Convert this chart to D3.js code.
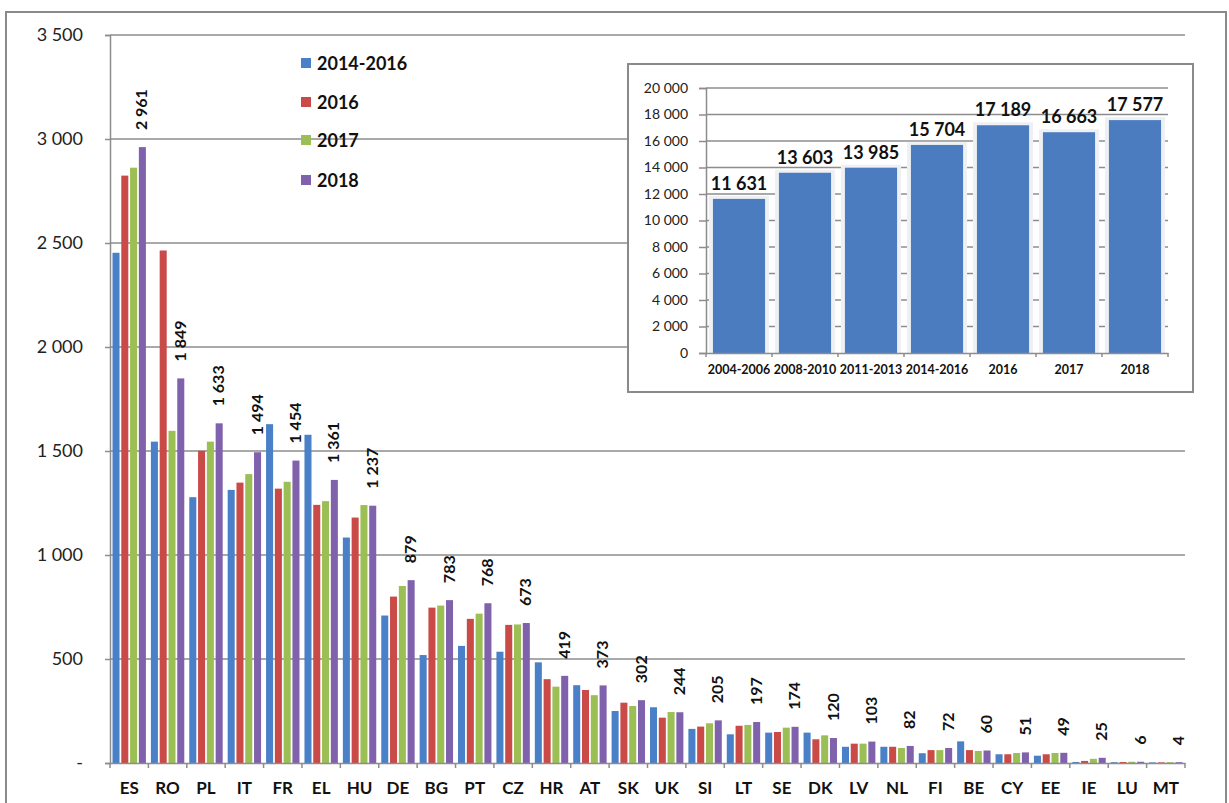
<!DOCTYPE html>
<html>
<head>
<meta charset="utf-8">
<script src="https://cdn.jsdelivr.net/npm/d3@7/dist/d3.min.js"></script>
<style>
  body { margin: 0; background: #fff; }
  svg { display: block; font-family: Lato, "Open Sans", sans-serif; }
</style>
</head>
<body>
<svg id="chart" width="1229" height="803"></svg>
<script>
const countries = ["ES","RO","PL","IT","FR","EL","HU","DE","BG","PT","CZ","HR","AT","SK","UK","SI","LT","SE","DK","LV","NL","FI","BE","CY","EE","IE","LU","MT"];
const seriesNames = ["2014-2016","2016","2017","2018"];
const v2014_2016 = [2453,1545,1278,1313,1629,1578,1084,709,519,563,535,484,374,250,268,164,138,146,146,78,78,47,104,42,35,5,4,3];
const v2016 = [2824,2464,1501,1348,1319,1241,1180,800,747,693,664,403,351,290,218,175,179,149,114,93,78,62,62,42,42,10,5,3];
const v2017 = [2862,1597,1545,1389,1352,1259,1240,851,757,718,666,367,326,274,245,191,183,170,133,93,72,62,58,48,48,20,6,4];
const v2018 = [2961,1849,1633,1494,1454,1361,1237,879,783,768,673,419,373,302,244,205,197,174,120,103,82,72,60,51,49,25,6,4];
const yTicks = [0,500,1000,1500,2000,2500,3000,3500];

const insetCats = ["2004-2006","2008-2010","2011-2013","2014-2016","2016","2017","2018"];
const insetVals = [11631,13603,13985,15704,17189,16663,17577];
const insetTicks = [0,2000,4000,6000,8000,10000,12000,14000,16000,18000,20000];

const colors = ["#4a80c8","#c94a46","#9bbf55","#8061ab"];
const gridColor = "#8c8c8c";

const fmt = d3.formatLocale({decimal: ",", thousands: " ", grouping: [3], currency: ["", ""]}).format(",d");

const svg = d3.select("#chart");

// outer frame
svg.append("rect")
  .attr("x", 6).attr("y", 12).attr("width", 1220).attr("height", 820)
  .attr("fill", "none").attr("stroke", "#8a8a8a").attr("stroke-width", 2);

// ---- main chart ----
const mLeft = 110, mRight = 1185, mTop = 35, mBottom = 763;

const x0 = d3.scaleBand().domain(countries).range([mLeft, mRight])
  .paddingInner(0.13).paddingOuter(0.065);
const x1 = d3.scaleBand().domain(seriesNames).range([0, x0.bandwidth()]).padding(0.2).paddingOuter(0);
const y = d3.scaleLinear().domain([0, 3500]).range([mBottom, mTop]);

// gridlines
svg.append("g")
  .selectAll("line")
  .data(yTicks.filter(d => d > 0))
  .enter().append("line")
  .attr("x1", mLeft).attr("x2", mRight)
  .attr("y1", d => y(d)).attr("y2", d => y(d))
  .attr("stroke", gridColor).attr("stroke-width", 1.5);

// y axis
const yAxis = svg.append("g")
  .attr("transform", `translate(${mLeft},0)`)
  .call(d3.axisLeft(y).tickValues(yTicks).tickSize(5).tickPadding(22)
    .tickFormat(d => d === 0 ? "-" : fmt(d)));
yAxis.select(".domain").attr("stroke", gridColor).attr("stroke-width", 1.5);
yAxis.selectAll(".tick line").attr("stroke", gridColor).attr("stroke-width", 1.5);
yAxis.selectAll("text").attr("font-size", 18).attr("fill", "#222")
  .attr("font-family", "Lato, sans-serif");

const allSeries = [v2014_2016, v2016, v2017, v2018];
const rows = countries.map((c, i) => ({
  country: c,
  values: seriesNames.map((s, k) => ({ key: s, k: k, value: allSeries[k][i] }))
}));

const groups = svg.append("g")
  .selectAll("g")
  .data(rows)
  .enter().append("g")
  .attr("transform", d => `translate(${x0(d.country)},0)`);

groups.selectAll("rect")
  .data(d => d.values)
  .enter().append("rect")
  .attr("x", d => x1(d.key))
  .attr("width", x1.bandwidth())
  .attr("y", d => y(d.value))
  .attr("height", d => y(0) - y(d.value))
  .attr("fill", d => colors[d.k]);

// x axis
const xAxis = svg.append("g")
  .attr("transform", `translate(0,${mBottom})`)
  .call(d3.axisBottom(x0).tickSize(0).tickPadding(19));
xAxis.select(".domain").attr("stroke", gridColor).attr("stroke-width", 1.5);
xAxis.selectAll("text").attr("font-size", 17).attr("font-weight", "bold")
  .attr("fill", "#111").attr("font-family", "Lato, sans-serif");
// tick marks between categories
const step = x0.step();
svg.append("g")
  .selectAll("line")
  .data(d3.range(countries.length + 1))
  .enter().append("line")
  .attr("x1", i => mLeft + i * step).attr("x2", i => mLeft + i * step)
  .attr("y1", mBottom).attr("y2", mBottom + 5)
  .attr("stroke", gridColor).attr("stroke-width", 1.5);

// value labels on 2018
svg.append("g")
  .selectAll("text")
  .data(rows)
  .enter().append("text")
  .attr("transform", d => {
    const cx = x0(d.country) + x1("2018") + x1.bandwidth() / 2 + 1;
    const cy = y(d.values[3].value) - 17;
    return `translate(${cx},${cy}) rotate(-90)`;
  })
  .attr("dominant-baseline", "middle")
  .attr("font-size", 16).attr("font-weight", "bold").attr("fill", "#111")
  .text(d => fmt(d.values[3].value));

// legend
const legend = svg.append("g")
  .selectAll("g")
  .data(seriesNames)
  .enter().append("g")
  .attr("transform", (d, i) => `translate(301,${[63, 102, 140, 180][i]})`);
legend.append("rect")
  .attr("x", 0).attr("y", -5).attr("width", 10).attr("height", 10)
  .attr("fill", (d, i) => colors[i]);
legend.append("text")
  .attr("x", 16).attr("y", 0).attr("dominant-baseline", "central")
  .attr("font-size", 18).attr("font-weight", "bold").attr("fill", "#111")
  .text(d => d);

// ---- inset chart ----
const ib = { x: 628, y: 64, w: 565, h: 328 };
svg.append("rect")
  .attr("x", ib.x).attr("y", ib.y).attr("width", ib.w).attr("height", ib.h)
  .attr("fill", "#fff").attr("stroke", "#8a8a8a").attr("stroke-width", 2);

const iLeft = 706, iRight = 1168, iTop = 88, iBottom = 353;
const ix = d3.scaleBand().domain(insetCats).range([iLeft, iRight]).paddingInner(0.21).paddingOuter(0.105);
const iy = d3.scaleLinear().domain([0, 20000]).range([iBottom, iTop]);

svg.append("g")
  .selectAll("line")
  .data(insetTicks.filter(d => d > 0))
  .enter().append("line")
  .attr("x1", iLeft).attr("x2", iRight)
  .attr("y1", d => iy(d)).attr("y2", d => iy(d))
  .attr("stroke", gridColor).attr("stroke-width", 1.5);

// soft halo behind bars
svg.append("g")
  .selectAll("rect")
  .data(insetVals)
  .enter().append("rect")
  .attr("x", (d, i) => ix(insetCats[i]) - 4)
  .attr("width", ix.bandwidth() + 8)
  .attr("y", d => iy(d) - 3)
  .attr("height", d => iBottom - iy(d) + 3)
  .attr("fill", "#eef0f4");

svg.append("g")
  .selectAll("rect")
  .data(insetVals)
  .enter().append("rect")
  .attr("x", (d, i) => ix(insetCats[i]))
  .attr("width", ix.bandwidth())
  .attr("y", d => iy(d))
  .attr("height", d => iBottom - iy(d))
  .attr("fill", "#4b7cc0");

const iyAxis = svg.append("g")
  .attr("transform", `translate(${iLeft},0)`)
  .call(d3.axisLeft(iy).tickValues(insetTicks).tickSize(7).tickPadding(11).tickFormat(fmt));
iyAxis.select(".domain").attr("stroke", gridColor).attr("stroke-width", 1.5);
iyAxis.selectAll(".tick line").attr("stroke", gridColor).attr("stroke-width", 1.5);
iyAxis.selectAll("text").attr("font-size", 14).attr("fill", "#222")
  .attr("font-family", "Lato, sans-serif");

const ixAxis = svg.append("g")
  .attr("transform", `translate(0,${iBottom})`)
  .call(d3.axisBottom(ix).tickSize(0).tickPadding(12));
ixAxis.select(".domain").attr("stroke", gridColor).attr("stroke-width", 1.5);
ixAxis.selectAll("text").attr("font-size", 12.5).attr("font-weight", "bold")
  .attr("fill", "#111").attr("font-family", "Lato, sans-serif");
const istep = ix.step();
svg.append("g")
  .selectAll("line")
  .data(d3.range(insetCats.length + 1))
  .enter().append("line")
  .attr("x1", i => iLeft + i * istep).attr("x2", i => iLeft + i * istep)
  .attr("y1", iBottom).attr("y2", iBottom + 4)
  .attr("stroke", gridColor).attr("stroke-width", 1.5);

svg.append("g")
  .selectAll("text")
  .data(insetVals)
  .enter().append("text")
  .attr("x", (d, i) => ix(insetCats[i]) + ix.bandwidth() / 2)
  .attr("y", d => iy(d) - 9)
  .attr("text-anchor", "middle")
  .attr("font-size", 18).attr("font-weight", "bold").attr("fill", "#111")
  .text(d => fmt(d));
</script>
</body>
</html>
